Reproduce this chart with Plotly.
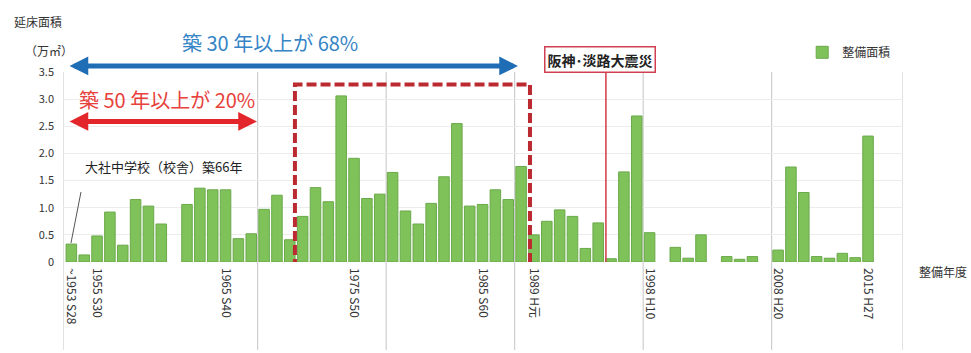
import plotly.graph_objects as go

# ---- data ----
years = list(range(1953, 2016))
areas = [0.33, 0.13, 0.48, 0.92, 0.31, 1.15, 1.03, 0.70, 0.00, 1.06,
         1.36, 1.33, 1.33, 0.43, 0.52, 0.97, 1.23, 0.41, 0.84, 1.37,
         1.11, 3.06, 1.91, 1.17, 1.25, 1.65, 0.94, 0.70, 1.08, 1.57,
         2.55, 1.03, 1.06, 1.33, 1.15, 1.76, 0.50, 0.75, 0.96, 0.84,
         0.25, 0.72, 0.06, 1.66, 2.69, 0.54, 0.00, 0.27, 0.07, 0.50,
         0.00, 0.10, 0.05, 0.10, 0.00, 0.22, 1.75, 1.28, 0.10, 0.07,
         0.16, 0.08, 2.32]
tick_years = [1953, 1955, 1965, 1975, 1985, 1989, 1998, 2008, 2015]
tick_text = ["~1953 S28", "1955 S30", "1965 S40", "1975 S50", "1985 S60",
             "1989 H元", "1998 H10", "2008 H20", "2015 H27"]
y_ticks = [0, 0.5, 1.0, 1.5, 2.0, 2.5, 3.0, 3.5]
y_text = ["0", "0.5", "1.0", "1.5", "2.0", "2.5", "3.0", "3.5"]
grid_years = [1952.35, 1967.5, 1977.5, 1987.5, 1997.5, 2007.5, 2017.72]

FONT = "Noto Sans CJK JP, Noto Sans, sans-serif"
X0, X1 = 1952.35, 2017.72

# years without any construction are left empty (no bar drawn)
bar_vals = [v if v > 0 else None for v in areas]

fig = go.Figure()
fig.add_trace(go.Bar(
    x=years, y=bar_vals, name="整備面積",
    marker=dict(color="#80c25a", line=dict(color="#6aa94a", width=1)),
    showlegend=True,
))

shapes = []
for gx in grid_years:
    shapes.append(dict(type="line", xref="x", yref="paper", x0=gx, x1=gx,
                       y0=-0.463, y1=1, line=dict(color="#c4c4c4", width=1),
                       layer="below"))
# red dashed rectangle
shapes.append(dict(type="rect", xref="x", yref="y", x0=1970.4, x1=1988.69,
                   y0=-0.074, y1=3.27,
                   line=dict(color="#bb2a30", width=4, dash="10px,4px")))
# earthquake line
shapes.append(dict(type="line", xref="x", yref="paper", x0=1994.6, x1=1994.6,
                   y0=0, y1=1.0105, line=dict(color="#d23a45", width=1.5)))
# leader line
shapes.append(dict(type="line", xref="x", yref="y", x0=1952.97, y0=0.35,
                   x1=1953.75, y1=1.29, line=dict(color="#555555", width=1)))

annotations = [
    dict(text="延床面積", xref="paper", yref="paper", x=-0.0607, y=1.268,
         xanchor="left", yanchor="middle", showarrow=False,
         font=dict(size=12, color="#333333", family=FONT)),
    dict(text="（万㎡）", xref="paper", yref="paper", x=-0.0167, y=1.111,
         xanchor="center", yanchor="middle", showarrow=False,
         font=dict(size=12, color="#333333", family=FONT)),
    dict(text="築 30 年以上が 68%", xref="x", yref="paper", x=1968.46, y=1.153,
         xanchor="center", yanchor="middle", showarrow=False,
         font=dict(size=20, color="#3585c6", family=FONT)),
    dict(text="築 50 年以上が 20%", xref="x", yref="y", x=1960.44, y=2.99,
         xanchor="center", yanchor="middle", showarrow=False,
         font=dict(size=20, color="#e8403a", family=FONT)),
    dict(text="大社中学校（校舎）築66年", xref="x", yref="y", x=1960.2, y=1.764,
         xanchor="center", yanchor="middle", showarrow=False,
         font=dict(size=13, color="#222222", family=FONT)),
    dict(text="<b>阪神･淡路大震災</b>", xref="x", yref="paper", x=1994.14, y=1.068,
         xanchor="center", yanchor="middle", showarrow=False,
         bordercolor="#d04050", borderwidth=1.5, borderpad=2, bgcolor="white",
         font=dict(size=14, color="#222222", family=FONT)),
    dict(text="整備年度", xref="paper", yref="paper", x=1.0167, y=-0.0526,
         xanchor="left", yanchor="middle", showarrow=False,
         font=dict(size=12, color="#333333", family=FONT)),
    # blue double arrow
    dict(text="", xref="x", yref="paper", x=1987.76, y=1.0316,
         axref="x", ayref="pixel", ax=1952.74, ay=0,
         showarrow=True, arrowside="end+start", arrowhead=2, arrowsize=0.75,
         arrowwidth=5, arrowcolor="#1f6db5", standoff=0, startstandoff=0),
    # red double arrow
    dict(text="", xref="x", yref="y", x=1967.45, y=2.59,
         axref="x", ayref="pixel", ax=1952.74, ay=0,
         showarrow=True, arrowside="end+start", arrowhead=2, arrowsize=0.75,
         arrowwidth=5, arrowcolor="#e3262b", standoff=0, startstandoff=0),
]

fig.update_layout(
    width=971, height=353,
    margin=dict(l=63, r=68, t=72, b=91),
    paper_bgcolor="white", plot_bgcolor="white",
    bargap=0.18,
    font=dict(family=FONT, size=11, color="#333333"),
    shapes=shapes, annotations=annotations,
    legend=dict(x=0.88, y=1.18, xanchor="left", yanchor="top",
                bgcolor="rgba(0,0,0,0)", font=dict(size=12, family=FONT),
                itemwidth=30),
    xaxis=dict(range=[X0, X1], tickmode="array", tickvals=tick_years,
               ticktext=tick_text, tickangle=90, showgrid=False,
               zeroline=False, showline=False, ticks="",
               ticklabelstandoff=5,
               tickfont=dict(size=12, color="#333333", family=FONT)),
    yaxis=dict(range=[0, 3.5], tickmode="array", tickvals=y_ticks,
               ticktext=y_text, showgrid=True, gridcolor="#ececec",
               zeroline=False, showline=False, ticks="",
               ticklabelstandoff=8,
               tickfont=dict(size=11, color="#333333", family=FONT)),
)

fig.write_html("out.html")
